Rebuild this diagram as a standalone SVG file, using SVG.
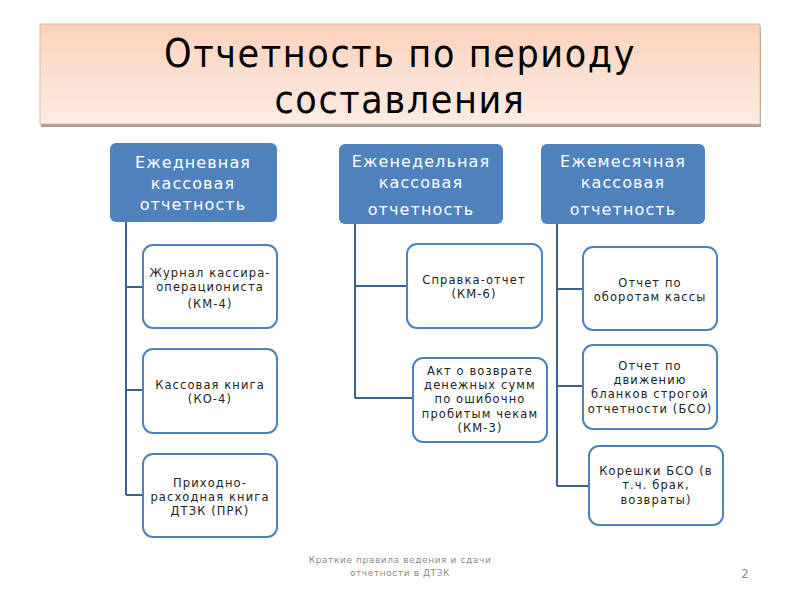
<svg xmlns="http://www.w3.org/2000/svg" width="800" height="600" viewBox="0 0 800 600">
<defs>
<linearGradient id="tg" x1="0" y1="0" x2="0" y2="1">
<stop offset="0" stop-color="#fbd2bb"/>
<stop offset="1" stop-color="#fdece3"/>
</linearGradient>
<style>
.hdr{fill:#4f81bd;}
.hdrt{fill:#fff;font-family:"DejaVu Sans",sans-serif;font-size:16px;letter-spacing:1.1px;text-anchor:middle;}
.box{fill:#fff;stroke:#4f81bd;stroke-width:2;}
.bt{fill:#222;font-family:"DejaVu Sans",sans-serif;font-size:11.5px;letter-spacing:1.1px;text-anchor:middle;}
.con{fill:none;stroke:#3e5f8a;stroke-width:2;}
.ft{fill:#8a8a8a;font-family:"DejaVu Sans",sans-serif;font-size:9px;letter-spacing:0.6px;text-anchor:middle;}
.tt{fill:#000;font-family:"DejaVu Sans Condensed","DejaVu Sans",sans-serif;font-size:39px;letter-spacing:1.6px;text-anchor:middle;}
</style>
</defs>
<rect width="800" height="600" fill="#fff"/>
<g id="title">
<rect x="41" y="27" width="720" height="100" fill="#a0a0a0"/>
<rect x="40" y="24" width="720" height="100" fill="url(#tg)" stroke="#e8b89a" stroke-width="1"/>
<text class="tt" x="400" y="67">Отчетность по периоду</text>
<text class="tt" x="400" y="113">составления</text>
</g>
<g id="connectors">
<path class="con" d="M126 222 V495 M126 287 H143 M126 390 H143 M126 495 H143"/>
<path class="con" d="M355 224 V398 M355 286 H407 M355 398 H413"/>
<path class="con" d="M557 224 V486 M557 289 H583 M557 386 H583 M557 486 H589"/>
</g>
<g id="daily">
<rect class="hdr" x="110" y="143" width="167" height="79" rx="6"/>
<text class="hdrt" x="193" y="168">Ежедневная</text>
<text class="hdrt" x="193" y="189">кассовая</text>
<text class="hdrt" x="193" y="210">отчетность</text>
</g>
<g id="weekly">
<rect class="hdr" x="339" y="144" width="164" height="80" rx="6"/>
<text class="hdrt" x="421" y="167">Еженедельная</text>
<text class="hdrt" x="421" y="188">кассовая</text>
<text class="hdrt" x="421" y="215">отчетность</text>
</g>
<g id="monthly">
<rect class="hdr" x="541" y="144" width="164" height="80" rx="6"/>
<text class="hdrt" x="623" y="167">Ежемесячная</text>
<text class="hdrt" x="623" y="188">кассовая</text>
<text class="hdrt" x="623" y="215">отчетность</text>
</g>
<g id="km4">
<rect class="box" x="143" y="245" width="134" height="83" rx="10"/>
<text class="bt" x="210" y="277">Журнал кассира-</text>
<text class="bt" x="210" y="291">операциониста</text>
<text class="bt" x="210" y="308">(КМ-4)</text>
</g>
<g id="ko4">
<rect class="box" x="143" y="349" width="134" height="84" rx="10"/>
<text class="bt" x="210" y="389">Кассовая книга</text>
<text class="bt" x="210" y="403">(КО-4)</text>
</g>
<g id="prk">
<rect class="box" x="143" y="454" width="134" height="83" rx="10"/>
<text class="bt" x="210" y="487">Приходно-</text>
<text class="bt" x="210" y="501">расходная книга</text>
<text class="bt" x="210" y="515">ДТЗК (ПРК)</text>
</g>
<g id="km6">
<rect class="box" x="407" y="244" width="135" height="84" rx="10"/>
<text class="bt" x="474" y="284">Справка-отчет</text>
<text class="bt" x="474" y="298">(КМ-6)</text>
</g>
<g id="km3">
<rect class="box" x="413" y="358" width="134" height="84" rx="10"/>
<text class="bt" x="480" y="375">Акт о возврате</text>
<text class="bt" x="480" y="389">денежных сумм</text>
<text class="bt" x="480" y="403">по ошибочно</text>
<text class="bt" x="480" y="418">пробитым чекам</text>
<text class="bt" x="480" y="432">(КМ-3)</text>
</g>
<g id="oborot">
<rect class="box" x="583" y="247" width="134" height="83" rx="10"/>
<text class="bt" x="650" y="287">Отчет по</text>
<text class="bt" x="650" y="301">оборотам кассы</text>
</g>
<g id="bso">
<rect class="box" x="583" y="345" width="134" height="84" rx="10"/>
<text class="bt" x="650" y="370">Отчет по</text>
<text class="bt" x="650" y="384">движению</text>
<text class="bt" x="650" y="398">бланков строгой</text>
<text class="bt" x="650" y="413">отчетности (БСО)</text>
</g>
<g id="koreshki">
<rect class="box" x="589" y="446" width="134" height="79" rx="10"/>
<text class="bt" x="656" y="475">Корешки БСО (в</text>
<text class="bt" x="656" y="489">т.ч. брак,</text>
<text class="bt" x="656" y="504">возвраты)</text>
</g>
<g id="footer">
<text class="ft" x="400" y="563">Краткие правила ведения и сдачи</text>
<text class="ft" x="400" y="576">отчетности в ДТЗК</text>
<text x="745" y="578" text-anchor="middle" font-family="DejaVu Sans, sans-serif" font-size="12" fill="#8a8a8a">2</text>
</g>
</svg>
